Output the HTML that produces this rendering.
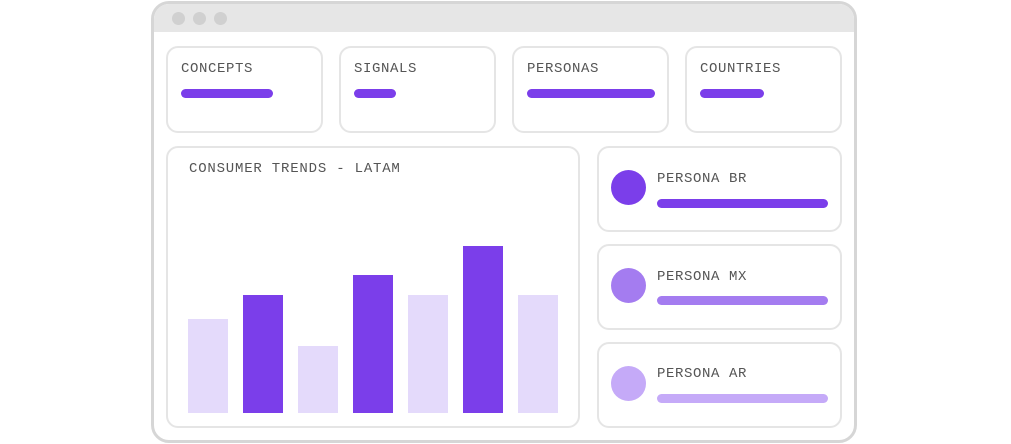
<!DOCTYPE html>
<html><head><meta charset="utf-8"><style>
body{margin:0;width:1011px;height:444px;background:#fff;position:relative;overflow:hidden;font-family:"Liberation Mono",monospace}
.abs{position:absolute;box-sizing:border-box}
.win{left:151px;top:1px;width:706px;height:442px;border:3px solid #d6d6d6;border-radius:18px;overflow:hidden}
.tb{left:0;top:0;width:100%;height:28px;background:#e6e6e6}
.dot{width:13px;height:13px;border-radius:50%;background:#d0d0d0;top:8px}
.card{border:2px solid #e5e5e5;border-radius:12px;background:#fff}
.lbl{font-size:14px;color:#555;letter-spacing:0.6px}
.bar{height:9px;border-radius:5px}
</style></head><body>
<div class="abs win">
<div class="abs tb">
<div class="abs dot" style="left:18px"></div>
<div class="abs dot" style="left:39px"></div>
<div class="abs dot" style="left:60px"></div>
</div></div>

<div class="abs card" style="left:166px;top:46px;width:157px;height:87px"></div>
<div class="abs lbl" style="left:181px;top:61px">CONCEPTS</div>
<div class="abs bar" style="left:181px;top:89px;width:92px;background:#7b3eea"></div>

<div class="abs card" style="left:339px;top:46px;width:157px;height:87px"></div>
<div class="abs lbl" style="left:354px;top:61px">SIGNALS</div>
<div class="abs bar" style="left:354px;top:89px;width:42px;background:#7b3eea"></div>

<div class="abs card" style="left:512px;top:46px;width:157px;height:87px"></div>
<div class="abs lbl" style="left:527px;top:61px">PERSONAS</div>
<div class="abs bar" style="left:527px;top:89px;width:128px;background:#7b3eea"></div>

<div class="abs card" style="left:685px;top:46px;width:157px;height:87px"></div>
<div class="abs lbl" style="left:700px;top:61px">COUNTRIES</div>
<div class="abs bar" style="left:700px;top:89px;width:64px;background:#7b3eea"></div>

<div class="abs card" style="left:166px;top:146px;width:414px;height:282px"></div>
<div class="abs lbl" style="left:189px;top:161px;letter-spacing:0.8px">CONSUMER TRENDS - LATAM</div>
<svg class="abs" style="left:0;top:0" width="1011" height="444" id="chart"></svg>

<div class="abs card" style="left:597px;top:146px;width:245px;height:86px"></div>
<div class="abs" style="left:611px;top:170px;width:35px;height:35px;border-radius:50%;background:#7b3eea"></div>
<div class="abs lbl" style="left:657px;top:171px">PERSONA BR</div>
<div class="abs bar" style="left:657px;top:199px;width:171px;background:#7b3eea"></div>

<div class="abs card" style="left:597px;top:244px;width:245px;height:86px"></div>
<div class="abs" style="left:611px;top:268px;width:35px;height:35px;border-radius:50%;background:#a47cf0"></div>
<div class="abs lbl" style="left:657px;top:269px">PERSONA MX</div>
<div class="abs bar" style="left:657px;top:296px;width:171px;background:#a47cf0"></div>

<div class="abs card" style="left:597px;top:342px;width:245px;height:86px"></div>
<div class="abs" style="left:611px;top:366px;width:35px;height:35px;border-radius:50%;background:#c5aaf8"></div>
<div class="abs lbl" style="left:657px;top:366px">PERSONA AR</div>
<div class="abs bar" style="left:657px;top:394px;width:171px;background:#c5aaf8"></div>

<script>
const categories=["c1","c2","c3","c4","c5","c6","c7"];
const values=[94,118,67,138,118,167,118];
const highlight=[0,1,0,1,0,1,0];
const svg=document.getElementById('chart');
const x0=188,step=55,bw=40,base=413,scale=1;
function xPos(i){return x0+i*step;}
function yPos(v){return base-v*scale;}
categories.forEach((c,i)=>{
 const r=document.createElementNS('http://www.w3.org/2000/svg','rect');
 r.setAttribute('x',xPos(i));r.setAttribute('y',yPos(values[i]));
 r.setAttribute('width',bw);r.setAttribute('height',base-yPos(values[i]));
 r.setAttribute('fill',highlight[i]?'#7b3eea':'#e4dafb');
 
 
 svg.appendChild(r);
});
</script>
</body></html>
